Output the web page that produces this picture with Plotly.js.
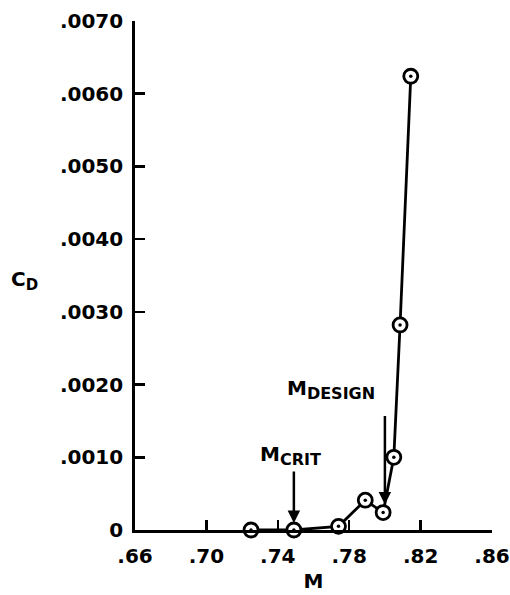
<!DOCTYPE html>
<html>
<head>
<meta charset="utf-8">
<script src="https://cdn.plot.ly/plotly-3.0.1.min.js"></script>
<style>
html,body{margin:0;padding:0;background:#fff;}
#chart{width:510px;height:595px;}
</style>
</head>
<body>
<div id="chart"></div>
<script>
// Data
const machNumbers = [0.725, 0.749, 0.774, 0.789, 0.799, 0.805, 0.8085, 0.8145];
const dragCoeff   = [0.0000, 0.0000, 0.00005, 0.00041, 0.00024, 0.0010, 0.00282, 0.00624];

const xTickVals = [0.66, 0.70, 0.74, 0.78, 0.82, 0.86];
const xTickText = ['.66', '.70', '.74', '.78', '.82', '.86'];
const yTickVals = [0, 0.001, 0.002, 0.003, 0.004, 0.005, 0.006, 0.007];
const yTickText = ['0', '.0010', '.0020', '.0030', '.0040', '.0050', '.0060', '.0070'];

const mCrit = 0.749;
const mDesign = 0.8;

const font = {family: 'DejaVu Sans', weight: 'bold', color: '#000'};

const traces = [
  {
    x: machNumbers, y: dragCoeff, type: 'scatter', mode: 'lines+markers',
    line: {color: '#000', width: 2.8},
    marker: {symbol: 'circle', size: 14, color: '#fff', line: {color: '#000', width: 2.8}},
    cliponaxis: false, hoverinfo: 'skip'
  },
  {
    x: machNumbers, y: dragCoeff, type: 'scatter', mode: 'markers',
    marker: {symbol: 'circle', size: 3.5, color: '#000'},
    cliponaxis: false, hoverinfo: 'skip'
  }
];

const layout = {
  width: 510, height: 595,
  margin: {l: 135, r: 18, t: 21, b: 65},
  paper_bgcolor: '#fff', plot_bgcolor: '#fff',
  showlegend: false,
  font: Object.assign({size: 20}, font),
  xaxis: {
    range: [0.66, 0.86], tickvals: xTickVals, ticktext: xTickText,
    ticks: 'inside', ticklen: 10, tickwidth: 2.5, tickcolor: '#000',
    showline: true, linewidth: 2.8, linecolor: '#000',
    showgrid: false, zeroline: false, ticklabelstandoff: 6,
    tickfont: Object.assign({size: 20}, font),
    title: {text: 'M', font: Object.assign({size: 20}, font), standoff: 8}
  },
  yaxis: {
    range: [0, 0.007], tickvals: yTickVals, ticktext: yTickText,
    ticks: 'inside', ticklen: 10, tickwidth: 2.5, tickcolor: '#000',
    showline: true, linewidth: 2.8, linecolor: '#000',
    showgrid: false, zeroline: false, ticklabelstandoff: 5,
    tickfont: Object.assign({size: 20}, font)
  },
  annotations: [
    {xref: 'paper', yref: 'paper', x: -0.31, y: 0.49,
     text: 'C<sub><span style="font-size:15px">D</span></sub>',
     showarrow: false, font: Object.assign({size: 20}, font), xanchor: 'center', yanchor: 'middle'},
    {x: 0.747, y: 0.00103, text: 'M<sub><span style="font-size:16px">CRIT</span></sub>', showarrow: false,
     font: Object.assign({size: 20}, font), xanchor: 'center', yanchor: 'middle'},
    {x: mCrit, y: 0, text: '', showarrow: true, arrowhead: 2, arrowsize: 1, arrowwidth: 2.5,
     arrowcolor: '#000', ax: 0, ay: -60, standoff: 7},
    {x: 0.770, y: 0.00193, text: 'M<sub><span style="font-size:16px">DESIGN</span></sub>', showarrow: false,
     font: Object.assign({size: 20}, font), xanchor: 'center', yanchor: 'middle'},
    {x: mDesign, y: 0.00035, text: '', showarrow: true, arrowhead: 2, arrowsize: 1, arrowwidth: 2.5,
     arrowcolor: '#000', ax: 0, ay: -90, standoff: 0}
  ]
};

Plotly.newPlot('chart', traces, layout, {staticPlot: true, displayModeBar: false});
</script>
</body>
</html>
